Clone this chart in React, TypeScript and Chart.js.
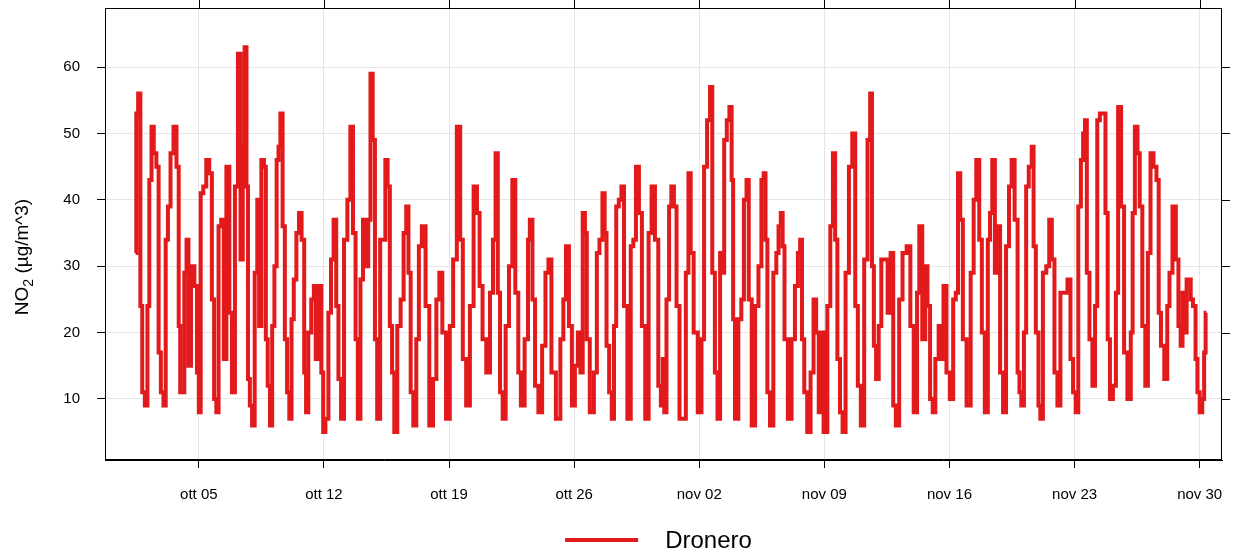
import React, { useEffect, useRef } from 'react';
import { Chart, registerables } from 'chart.js';

Chart.register(...registerables);

// hours since 1 Oct 00:00
const hours = [
  11, 13, 16, 19, 21, 26, 28, 31, 34, 37, 41, 43, 47, 50, 53, 56, 60, 64, 68, 70,
  72, 75, 78, 81, 83, 88, 92, 95, 97, 100, 104, 108, 112, 115, 118, 121, 124, 128, 131, 135,
  139, 142, 147, 150, 154, 156, 159, 161, 163, 166, 169, 173, 176, 178, 182, 185, 187, 190, 193, 196,
  199, 202, 204, 207, 210, 213, 216, 219, 222, 225, 229, 232, 236, 239, 241, 245, 249, 252, 254, 259,
  262, 264, 268, 272, 275, 279, 282, 285, 289, 293, 298, 301, 305, 308, 311, 315, 318, 322, 325, 328,
  331, 334, 337, 342, 345, 348, 351, 354, 357, 360, 365, 369, 373, 376, 379, 382, 386, 390, 393, 398,
  403, 408, 413, 417, 421, 425, 431, 435, 440, 445, 449, 452, 458, 462, 468, 471, 475, 479, 485, 489,
  493, 496, 499, 502, 506, 510, 515, 519, 523, 527, 530, 537, 539, 542, 546, 549, 555, 559, 564, 567,
  572, 579, 584, 587, 591, 595, 599, 603, 607, 610, 613, 616, 618, 624, 629, 632, 636, 640, 642, 645,
  649, 652, 655, 658, 662, 665, 669, 674, 678, 681, 685, 689, 693, 698, 702, 706, 711, 715, 718, 720,
  722, 726, 729, 732, 736, 739, 744, 748, 752, 755, 758, 763, 769, 773, 776, 781, 784, 787, 791, 794,
  798, 800, 803, 807, 810, 813, 814, 818, 823, 826, 830, 833, 836, 841, 845, 850, 853, 856, 858, 861,
  865, 870, 873, 876, 879, 881, 884, 890, 894, 899, 902, 905, 907, 911, 915, 920, 923, 927, 930, 932,
  938, 942, 946, 949, 952, 955, 959, 962, 967, 971, 976, 979, 983, 987, 992, 996, 999, 1001, 1004, 1007,
  1011, 1014, 1019, 1023, 1027, 1030, 1034, 1039, 1043, 1050, 1053, 1059, 1062, 1065, 1070, 1073, 1076, 1080, 1083, 1087,
  1092, 1094, 1098, 1102, 1107, 1111, 1114, 1117, 1120, 1124, 1130, 1135, 1138, 1142, 1146, 1149, 1154, 1157, 1160, 1163,
  1167, 1170, 1174, 1178, 1182, 1186, 1189, 1194, 1197, 1199, 1202, 1206, 1208, 1213, 1216, 1218, 1222, 1225, 1227, 1232,
  1236, 1240, 1243, 1247, 1251, 1255, 1260, 1265, 1268, 1272, 1275, 1279, 1282, 1285, 1287, 1290, 1294, 1298, 1301, 1304,
  1308, 1312, 1315, 1318, 1321, 1326, 1329, 1332, 1337, 1340, 1346, 1349, 1351, 1355, 1358, 1361, 1365, 1369, 1372, 1376,
  1380, 1384, 1386, 1390, 1395, 1398, 1401, 1406, 1410, 1413, 1416, 1418, 1421, 1424, 1427, 1429, 1433, 1436, 1438, 1442,
  1445, 1447, 1449,
];

// NO2, µg/m^3
const no2 = [
  32, 53, 56, 24, 11, 9, 24, 43, 51, 47, 45, 17, 11, 9, 34, 39, 47, 51, 45, 21,
  11, 11, 29, 34, 15, 30, 27, 14, 8, 41, 42, 46, 44, 25, 10, 8, 36, 37, 16, 45,
  23, 11, 42, 62, 31, 48, 63, 42, 13, 9, 6, 29, 40, 21, 46, 45, 19, 12, 6, 21,
  30, 46, 48, 53, 36, 19, 11, 7, 22, 28, 35, 38, 34, 14, 8, 20, 25, 27, 16, 27,
  14, 5, 7, 23, 31, 37, 24, 13, 7, 34, 40, 51, 35, 19, 7, 28, 37, 30, 37, 59,
  49, 19, 7, 34, 34, 46, 42, 21, 14, 5, 21, 25, 35, 39, 29, 11, 6, 19, 33, 36,
  24, 6, 13, 25, 29, 20, 7, 21, 31, 51, 34, 16, 9, 24, 42, 38, 27, 19, 14, 26,
  34, 47, 26, 11, 7, 21, 30, 43, 26, 14, 9, 19, 34, 37, 25, 12, 8, 18, 29, 31,
  14, 7, 19, 25, 33, 21, 9, 15, 20, 14, 38, 35, 19, 8, 14, 32, 34, 41, 35, 18,
  11, 7, 21, 39, 40, 42, 24, 7, 33, 34, 45, 38, 21, 7, 35, 42, 34, 12, 9, 16,
  8, 25, 39, 42, 39, 24, 7, 7, 29, 44, 32, 20, 8, 19, 45, 52, 57, 29, 14, 7,
  32, 29, 49, 52, 54, 43, 22, 7, 22, 25, 40, 43, 25, 6, 24, 30, 43, 44, 34, 11,
  6, 29, 32, 36, 38, 33, 19, 7, 19, 27, 32, 34, 19, 11, 5, 14, 25, 20, 8, 20,
  5, 24, 36, 47, 34, 16, 8, 5, 29, 45, 50, 24, 12, 6, 31, 49, 56, 30, 18, 13,
  21, 31, 31, 23, 32, 9, 6, 25, 32, 33, 21, 8, 26, 36, 19, 30, 24, 10, 8, 16,
  21, 16, 27, 14, 10, 25, 26, 44, 37, 19, 9, 29, 40, 46, 34, 20, 8, 34, 38, 46,
  29, 36, 14, 8, 33, 42, 46, 37, 14, 11, 9, 20, 42, 45, 48, 33, 20, 9, 7, 29,
  30, 37, 31, 14, 9, 26, 26, 28, 16, 11, 8, 39, 46, 50, 52, 29, 19, 12, 24, 52,
  53, 53, 38, 19, 10, 12, 26, 54, 39, 17, 10, 20, 38, 51, 47, 39, 21, 12, 32, 47,
  45, 43, 23, 18, 13, 24, 29, 39, 31, 21, 18, 26, 20, 28, 28, 25, 24, 16, 11, 8,
  10, 17, 23,
];

const xTickHours = [96, 264, 432, 600, 768, 936, 1104, 1272, 1440];
const xTickLabels = ['ott 05', 'ott 12', 'ott 19', 'ott 26', 'nov 02', 'nov 09', 'nov 16', 'nov 23', 'nov 30'];
const yTickValues = [10, 20, 30, 40, 50, 60];
const seriesName = 'Dronero';
const yTitleMain = 'NO';
const yTitleSub = '2';
const yTitleRest = ' (µg/m^3)';

const RED = 'rgb(227,26,28)';
const FONT = "'Liberation Sans', Arial, sans-serif";
const GRID = '#e6e6e6';

const framePlugin = {
  id: 'framePlugin',
  afterDraw(chart: any) {
    const { ctx, chartArea: a, scales } = chart;
    ctx.save();
    ctx.strokeStyle = '#000';
    ctx.lineWidth = 1;
    ctx.strokeRect(Math.round(a.left) + 0.5, Math.round(a.top) + 0.5, Math.round(a.right - a.left) - 1, Math.round(a.bottom - a.top) - 1);
    ctx.beginPath();
    xTickHours.forEach((h) => {
      const x = Math.round(scales.x.getPixelForValue(h)) + 0.5;
      ctx.moveTo(x, a.top);
      ctx.lineTo(x, a.top - 8);
    });
    yTickValues.forEach((v) => {
      const y = Math.round(scales.y.getPixelForValue(v)) + 0.5;
      ctx.moveTo(a.right, y);
      ctx.lineTo(a.right + 8, y);
    });
    ctx.stroke();

    // y title with subscript
    ctx.fillStyle = '#000';
    const big = `19px ${FONT}`;
    const small = `14px ${FONT}`;
    ctx.font = big;
    const w1 = ctx.measureText(yTitleMain).width;
    const w3 = ctx.measureText(yTitleRest).width;
    ctx.font = small;
    const w2 = ctx.measureText(yTitleSub).width;
    const total = w1 + w2 + w3;
    const cy = (a.top + a.bottom) / 2 + 23;
    ctx.translate(28, cy);
    ctx.rotate(-Math.PI / 2);
    ctx.textBaseline = 'alphabetic';
    ctx.textAlign = 'left';
    let x = -total / 2;
    ctx.font = big;
    ctx.fillText(yTitleMain, x, 0);
    x += w1;
    ctx.font = small;
    ctx.fillText(yTitleSub, x, 5);
    x += w2;
    ctx.font = big;
    ctx.fillText(yTitleRest, x, 0);
    ctx.restore();

    // legend
    ctx.save();
    ctx.font = `24px ${FONT}`;
    const tw = ctx.measureText(seriesName).width;
    const lineLen = 73;
    const gap = 27;
    const tot = lineLen + gap + tw;
    const cx = (a.left + a.right) / 2 - 5;
    const sx = cx - tot / 2;
    const ly = 540;
    ctx.strokeStyle = RED;
    ctx.lineWidth = 4;
    ctx.beginPath();
    ctx.moveTo(sx, ly);
    ctx.lineTo(sx + lineLen, ly);
    ctx.stroke();
    ctx.fillStyle = '#000';
    ctx.textBaseline = 'middle';
    ctx.textAlign = 'left';
    ctx.fillText(seriesName, sx + lineLen + gap, ly + 1);
    ctx.restore();
  },
};

export default function App() {
  const ref = useRef<HTMLCanvasElement | null>(null);
  useEffect(() => {
    document.body.style.margin = '0';
    const canvas = ref.current;
    if (!canvas) return;
    const points = hours.map((h, i) => ({ x: h, y: no2[i] }));
    const chart = new Chart(canvas, {
      type: 'line',
      data: {
        datasets: [
          {
            label: seriesName,
            data: points,
            borderColor: RED,
            backgroundColor: RED,
            borderWidth: 4,
            pointRadius: 0,
            tension: 0,
            stepped: 'middle',
            fill: false,
          },
        ],
      },
      options: {
        animation: false,
        responsive: false,
        devicePixelRatio: 1,
        layout: { padding: { left: 0, top: 8, right: 14, bottom: 0 } },
        plugins: { legend: { display: false }, tooltip: { enabled: false } },
        scales: {
          x: {
            type: 'linear',
            min: -30,
            max: 1470,
            afterBuildTicks: (s: any) => {
              s.ticks = xTickHours.map((v) => ({ value: v }));
            },
            afterFit: (s: any) => {
              s.height = 93;
              s.paddingLeft = 0;
              s.paddingRight = 0;
            },
            ticks: {
              autoSkip: false,
              maxRotation: 0,
              padding: 18,
              color: '#000',
              font: { family: FONT, size: 15 },
              callback: (v: any) => {
                const i = xTickHours.indexOf(Number(v));
                return i >= 0 ? xTickLabels[i] : '';
              },
            },
            grid: { color: GRID, tickColor: '#000', tickLength: 8, lineWidth: 1 },
            border: { display: true, color: '#000', width: 1 },
          },
          y: {
            type: 'linear',
            min: 0.8,
            max: 68.9,
            afterBuildTicks: (s: any) => {
              s.ticks = yTickValues.map((v) => ({ value: v }));
            },
            afterFit: (s: any) => {
              s.width = 105;
              s.paddingTop = 0;
              s.paddingBottom = 0;
            },
            ticks: {
              padding: 17,
              color: '#000',
              font: { family: FONT, size: 15 },
            },
            grid: { color: GRID, tickColor: '#000', tickLength: 8, lineWidth: 1 },
            border: { display: true, color: '#000', width: 1 },
          },
        },
      },
      plugins: [framePlugin],
    });
    return () => chart.destroy();
  }, []);
  return (
    <div style={{ position: 'fixed', left: 0, top: 0, width: 1236, height: 553, background: '#fff' }}>
      <canvas ref={ref} width={1236} height={553} />
    </div>
  );
}
